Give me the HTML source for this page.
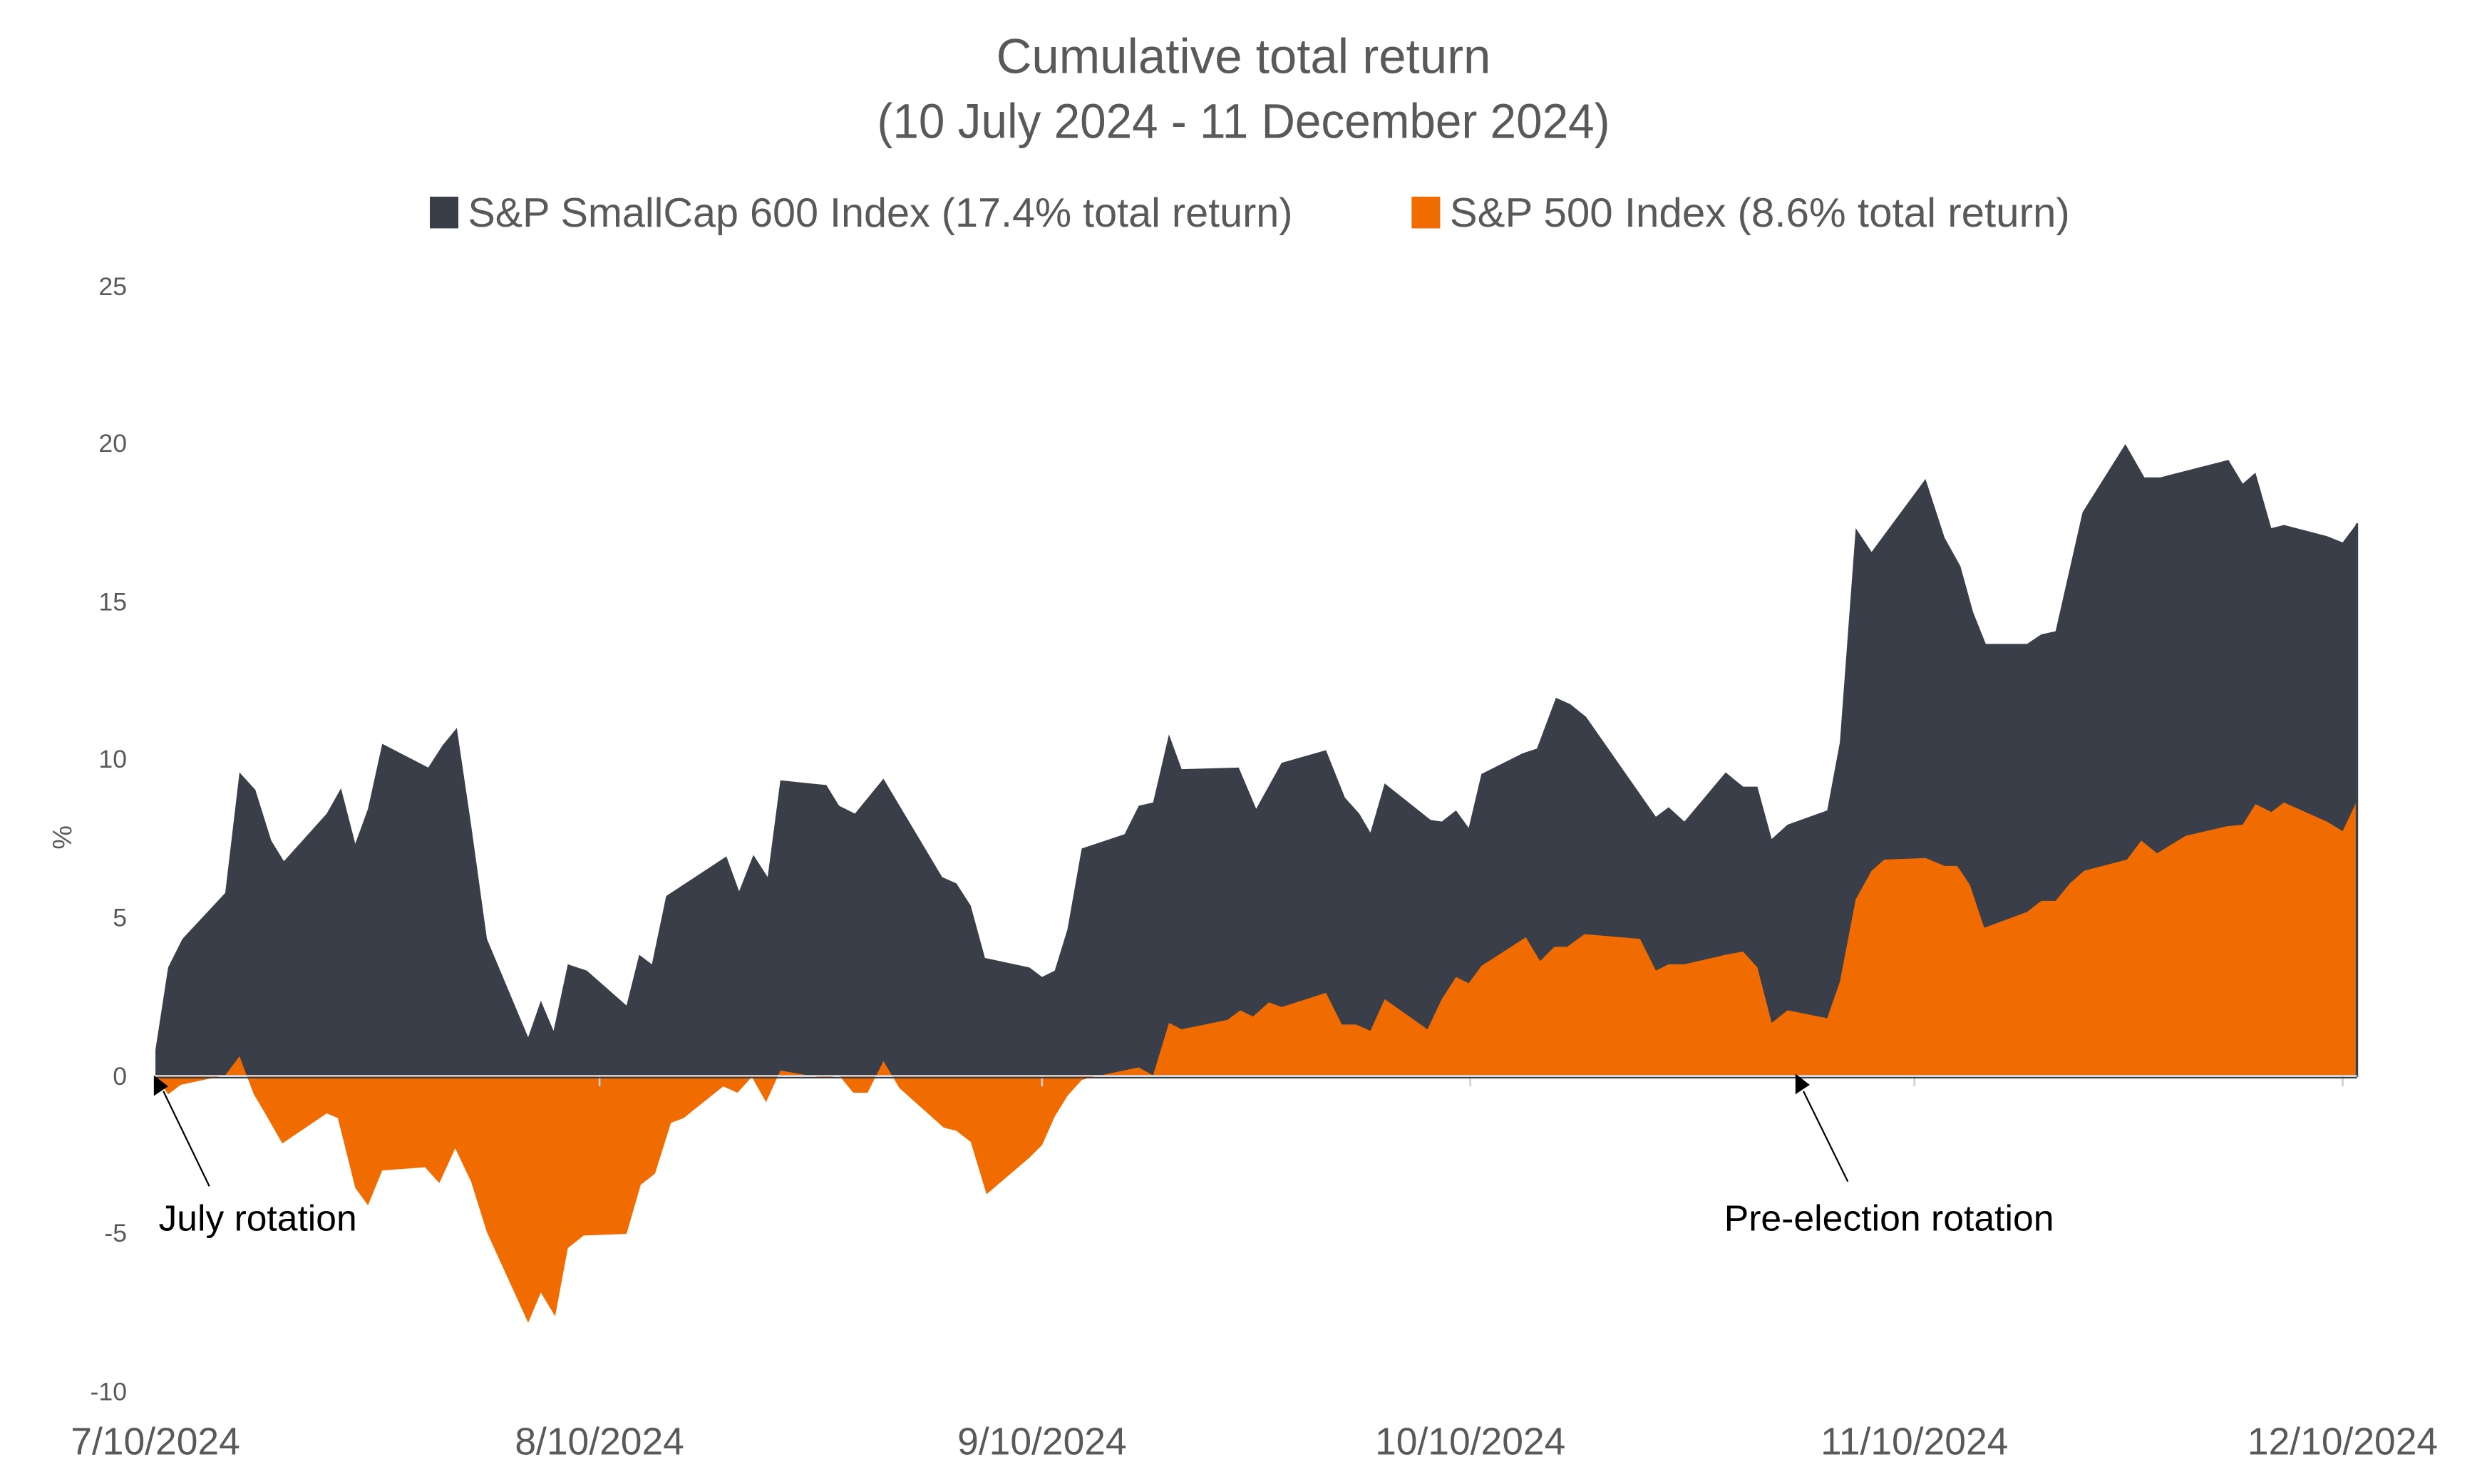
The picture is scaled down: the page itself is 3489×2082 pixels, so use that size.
<!DOCTYPE html>
<html><head><meta charset="utf-8"><style>
html,body{margin:0;padding:0;background:#fff;}
svg{display:block;}
text{font-family:"Liberation Sans",sans-serif;}
</style></head><body>
<svg width="3489" height="2082" viewBox="0 0 1568 935.7" preserveAspectRatio="none" xmlns="http://www.w3.org/2000/svg">
<rect width="1568" height="935.7" fill="#fff"/>
<text x="784" y="46" font-size="31" fill="#595959" text-anchor="middle">Cumulative total return</text>
<text x="784" y="87" font-size="31" fill="#595959" text-anchor="middle" textLength="462" lengthAdjust="spacingAndGlyphs">(10 July 2024 - 11 December 2024)</text>
<rect x="271" y="124" width="18" height="20" fill="#3a3e49"/>
<text x="295" y="143" font-size="26" fill="#595959" textLength="520" lengthAdjust="spacingAndGlyphs">S&amp;P SmallCap 600 Index (17.4% total return)</text>
<rect x="890" y="124" width="18" height="20" fill="#f06c00"/>
<text x="914" y="143" font-size="26" fill="#595959" textLength="391" lengthAdjust="spacingAndGlyphs">S&amp;P 500 Index (8.6% total return)</text>
<g font-size="16" fill="#595959" text-anchor="end">
<text x="80" y="186">25</text><text x="80" y="285">20</text><text x="80" y="385">15</text>
<text x="80" y="484">10</text><text x="80" y="584">5</text><text x="80" y="684">0</text>
<text x="80" y="783">-5</text><text x="80" y="883">-10</text>
</g>
<text x="45" y="528" font-size="17" fill="#595959" text-anchor="middle" transform="rotate(-90 45 528)">%</text>
<path fill="#3a3e49" d="M98,678 L98,662 L106,610 L115,592 L142,563 L151,487 L161,498 L171,530 L179,543 L206,513 L215,497 L224,532 L232,510 L241,469 L270,484 L279,470 L288,459 L297,520 L307,592 L333,654 L341,631 L349,650 L358,608 L370,612 L395,634 L403,602 L411,608 L420,565 L458,540 L466,562 L475,539 L484,553 L492,492 L521,495 L529,508 L539,513 L557,491 L594,553 L603,557 L612,571 L621,604 L649,610 L657,616 L665,612 L673,586 L682,535 L709,526 L718,508 L727,506 L737,463 L745,485 L781,484 L792,510 L808,481 L836,473 L848,503 L857,513 L864,525 L873,494 L902,517 L909,518 L918,511 L926,522 L934,488 L960,475 L969,472 L981,440 L990,444 L1000,452 L1044,515 L1052,509 L1062,518 L1088,487 L1099,496 L1108,496 L1117,529 L1127,520 L1152,511 L1160,468 L1170,333 L1180,348 L1214,302 L1226,339 L1236,357 L1244,386 L1252,406 L1278,406 L1287,400 L1296,398 L1313,323 L1340,280 L1352,301 L1362,301 L1405,290 L1414,305 L1422,298 L1432,333 L1440,331 L1467,338 L1477,342 L1486,330 L1486,678 Z"/>
<path fill="#f06c00" d="M98,678 L106,690 L114,684 L142,678 L151,666 L160,690 L166,700 L178,721 L206,702 L213,705 L224,749 L232,760 L241,738 L268,736 L277,746 L287,724 L297,745 L307,777 L333,834 L341,815 L350,830 L358,787 L368,779 L395,778 L404,747 L413,740 L423,708 L431,705 L456,685 L465,689 L474,679 L483,695 L492,675 L521,680 L529,678 L538,689 L547,689 L557,669 L567,686 L595,711 L603,713 L612,720 L622,753 L649,730 L657,722 L665,704 L673,691 L682,681 L689,679 L718,673 L727,678 L737,645 L745,649 L774,643 L782,637 L790,641 L800,632 L808,635 L836,626 L846,646 L855,646 L864,650 L873,630 L900,649 L909,630 L918,616 L926,620 L934,609 L962,591 L971,606 L980,597 L988,597 L999,589 L1034,592 L1044,612 L1052,608 L1062,608 L1088,602 L1099,600 L1108,610 L1117,645 L1127,637 L1152,642 L1160,619 L1170,567 L1180,549 L1188,542 L1214,541 L1226,546 L1234,546 L1242,558 L1251,585 L1278,575 L1287,568 L1296,568 L1305,557 L1314,549 L1341,542 L1350,530 L1360,538 L1378,527 L1404,521 L1414,520 L1422,507 L1432,512 L1440,506 L1467,518 L1477,524 L1486,505 L1486,678 Z"/>
<g stroke="#d0d0d0" stroke-width="1.2">
<line x1="378" y1="678" x2="378" y2="685"/><line x1="657" y1="678" x2="657" y2="685"/>
<line x1="927" y1="678" x2="927" y2="685"/><line x1="1207" y1="678" x2="1207" y2="685"/>
<line x1="1477" y1="678" x2="1477" y2="685"/>
</g>
<line x1="1486" y1="330" x2="1486" y2="679" stroke="#3a3e49" stroke-width="1.5"/>
<line x1="98" y1="679.5" x2="1486" y2="679.5" stroke="#3a3e49" stroke-width="1"/>
<line x1="98" y1="678.3" x2="1486" y2="678.3" stroke="#d8d8d8" stroke-width="1"/>
<line x1="132" y1="748" x2="103" y2="688" stroke="#000" stroke-width="1"/>
<polygon points="97,678 97,691 106,685" fill="#000"/>
<line x1="1165" y1="745" x2="1137" y2="688" stroke="#000" stroke-width="1"/>
<polygon points="1132,677 1132,690 1141,684" fill="#000"/>
<text x="100" y="776" font-size="23" fill="#000" textLength="125" lengthAdjust="spacingAndGlyphs">July rotation</text>
<text x="1087" y="776" font-size="23" fill="#000" textLength="208" lengthAdjust="spacingAndGlyphs">Pre-election rotation</text>
<g font-size="24" fill="#595959" text-anchor="middle">
<text x="98" y="917">7/10/2024</text><text x="378" y="917">8/10/2024</text>
<text x="657" y="917">9/10/2024</text><text x="927" y="917">10/10/2024</text>
<text x="1207" y="917">11/10/2024</text><text x="1477" y="917">12/10/2024</text>
</g>
</svg>
</body></html>
